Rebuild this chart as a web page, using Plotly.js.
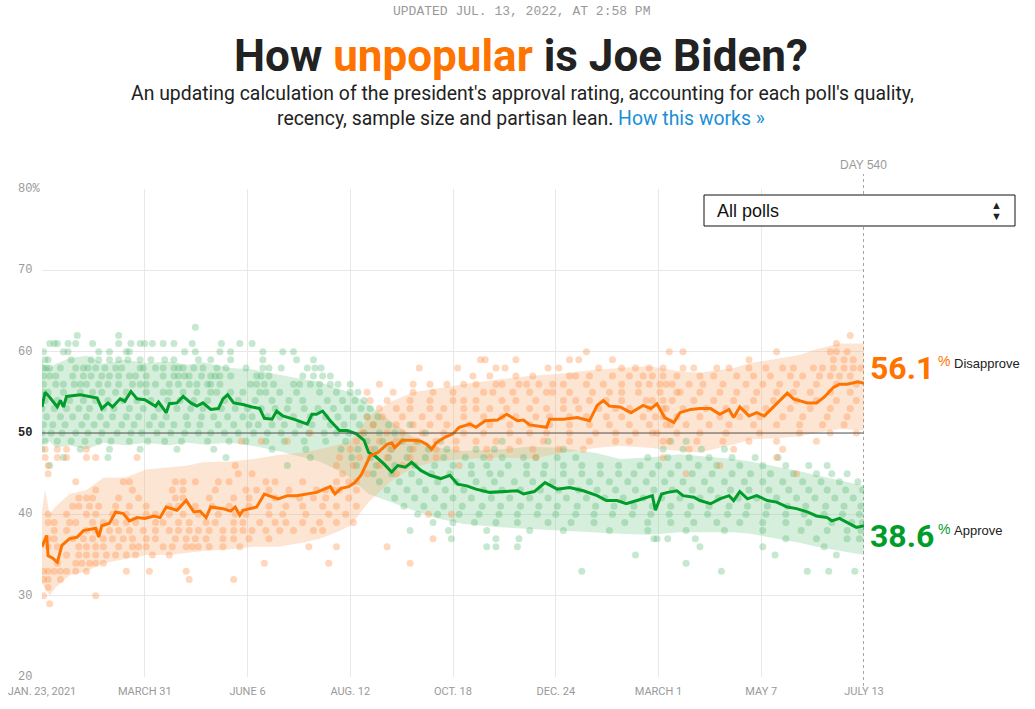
<!DOCTYPE html>
<html><head><meta charset="utf-8">
<script src="https://cdn.plot.ly/plotly-3.0.1.min.js"></script>
<style>html,body{margin:0;padding:0;background:#fff;}#chart{width:1035px;height:709px;}</style>
</head><body><div id="chart"></div>
<script>
// ---- DATA (x = days since Jan. 23, 2021) ----
const xTickDays = [0, 67, 134, 201, 268, 335, 402, 469, 536];
const xTickText = ['JAN. 23, 2021', 'MARCH 31', 'JUNE 6', 'AUG. 12', 'OCT. 18', 'DEC. 24', 'MARCH 1', 'MAY 7', 'JULY 13'];
const yTickVals = [20, 30, 40, 50, 60, 70, 80];
const yTickText = ['20', '30', '40', '50', '60', '70', '80%'];

const approveDay = [0,2,5,10,12,14,16,25,36,39,43,46,51,54,58,62,67,74,76,81,83,88,92,97,101,105,110,115,118,121,125,131,137,142,145,150,153,157,164,173,176,179,183,188,194,199,205,210,213,217,223,228,232,237,241,247,253,260,266,271,277,283,292,301,310,314,321,328,336,344,353,362,368,375,381,388,394,398,400,404,408,414,418,425,429,436,442,448,451,455,460,466,473,479,486,492,499,505,512,515,520,525,531,536];
const approvePct = [53.2,55.0,54.4,53.2,54.0,53.2,54.5,54.7,54.3,53.0,53.7,53.2,54.2,53.9,55.1,54.2,54.1,53.3,53.8,52.5,53.6,53.7,54.5,53.7,53.3,53.7,52.9,53.0,54.2,54.7,53.7,53.5,53.2,53.0,51.8,51.7,52.7,52.1,51.7,51.1,52.3,52.3,52.7,51.5,50.3,50.3,49.9,49.1,47.6,47.2,46.2,45.2,46.0,45.8,46.4,45.4,44.8,44.4,44.8,43.7,43.5,43.1,42.7,42.8,42.9,42.5,42.8,43.9,43.1,43.3,42.9,42.3,41.7,41.7,41.3,41.7,42.1,42.3,40.5,42.5,42.7,42.9,42.3,42.1,41.7,41.3,41.9,42.3,41.7,42.8,41.9,42.3,41.7,41.5,40.9,40.7,40.3,39.8,39.6,39.2,39.5,39.0,38.4,38.6];

const disapproveDay = [0,3,4,7,10,13,18,23,27,35,37,39,44,48,53,57,62,67,73,77,81,88,94,99,103,107,110,118,123,126,129,131,140,145,154,160,166,173,179,188,191,195,200,204,208,211,214,219,225,228,230,235,242,247,251,254,257,263,268,272,279,283,289,297,303,310,314,318,323,329,331,340,349,357,362,366,370,377,384,392,397,401,406,412,416,423,429,436,442,448,451,455,461,466,471,479,486,490,499,505,510,516,520,525,529,532,536];
const disapprovePct = [36.0,37.4,34.9,34.6,34.1,36.2,37.0,37.2,38.0,38.3,37.2,38.6,38.9,40.3,40.1,39.2,39.6,39.5,39.8,39.6,40.9,40.5,41.7,40.3,40.4,39.6,40.9,40.7,40.4,40.9,39.9,40.5,40.9,42.5,41.9,42.3,42.3,42.5,42.7,43.4,42.5,43.2,43.4,43.9,44.8,46.0,47.2,47.6,48.6,48.8,48.2,49.1,49.1,49.0,48.6,48.0,48.8,49.5,49.9,50.7,51.1,50.7,51.5,51.6,52.3,51.5,51.6,51.0,50.9,50.7,51.7,51.7,51.9,51.5,53.4,54.0,53.3,53.2,52.5,53.4,53.0,53.6,51.9,51.3,52.5,52.9,53.0,53.0,52.3,52.9,51.9,53.2,52.1,52.5,52.1,53.6,54.9,54.2,53.7,53.7,54.4,55.6,56.0,56.0,56.2,56.3,56.1];

const bandDay = [0,2,5,9,18,29,40,54,68,83,95,105,123,138,154,170,181,192,201,213,227,242,258,275,299,318,338,362,377,396,416,429,451,462,481,494,505,520,536];
const approveHigh = [59.0,58.2,58.0,58.5,59.2,59.5,58.5,59.0,58.6,58.8,58.4,58.7,58.0,57.8,57.2,56.6,56.3,55.5,55.0,53.5,51.5,49.5,48.2,47.8,48.0,48.3,48.2,47.5,46.8,47.0,47.4,47.2,46.8,46.5,45.8,45.3,44.8,44.2,43.5];
const approveLow = [48.5,48.8,49.0,48.2,48.5,48.0,48.8,48.5,48.8,48.5,48.8,48.6,48.8,48.4,47.8,47.0,46.5,45.5,44.5,42.5,41.5,40.5,39.5,38.8,38.4,38.2,38.0,37.8,37.6,37.5,37.8,37.8,37.8,37.6,37.0,36.5,36.0,35.5,35.0];
const disapproveHigh = [40.5,43.0,40.0,41.0,42.5,43.0,44.5,44.5,45.5,45.8,46.0,46.4,46.5,46.8,47.3,47.6,48.0,48.5,49.0,52.0,53.8,55.0,55.5,56.0,56.6,57.0,57.3,57.8,58.0,58.2,57.6,57.4,58.0,58.6,59.2,59.6,60.3,61.0,61.0];
const disapproveLow = [31.5,31.0,30.0,31.0,32.5,33.0,34.0,34.5,35.0,35.0,35.3,35.5,35.7,36.0,36.0,36.5,37.0,37.8,38.6,41.5,44.0,45.8,46.5,46.8,47.0,46.8,47.5,48.2,48.4,48.2,47.8,47.6,48.6,49.2,49.4,49.6,50.0,50.5,50.3];

// individual polls, grouped by rounded result
const approveRowPct = [63,62,61,60,59,58,57,56,55,54,53,52,51,50,49,48,47,46,45,44,43,42,41,40,39,38,37,36,35,34,33];
const approveRowDays = [
 [100],
 [23,50],
 [5,8,10,17,22,33,50,58,64,67,72,79,86,98,117,129,137],
 [1,14,17,37,44,55,57,93,100,116,123,144,157,164],
 [2,4,19,32,37,44,50,56,64,71,80,86,102,110,123,144,166,177],
 [1,3,5,12,22,27,30,35,41,48,52,64,66,74,79,86,89,92,99,105,114,120,133,144,148,156,173,178,182],
 [1,5,9,20,27,32,39,44,50,57,61,68,79,86,89,93,96,104,110,113,116,123,140,143,148,170,177,183,188],
 [1,9,14,21,25,29,37,43,50,59,64,68,74,83,89,96,101,108,110,116,136,140,145,151,164,168,175,181,188,193,201],
 [1,4,14,25,33,39,48,55,68,79,83,92,101,110,114,123,131,142,146,155,166,181,192,201,206],
 [2,10,18,27,35,43,53,62,71,82,90,99,108,119,128,139,150,161,170,186,196,204,210],
 [0,8,16,24,31,40,47,57,66,76,88,97,105,117,126,134,143,152,160,171,180,190,199,208,214],
 [3,12,20,29,38,46,55,63,73,81,94,104,112,121,131,137,147,155,164,175,185,193,203,212,219],
 [1,7,15,26,34,42,52,60,70,78,86,95,103,115,125,135,141,150,158,168,176,188,197,207,216,226,240],
 [0,6,13,22,30,39,49,58,65,75,84,93,102,110,119,128,138,147,156,165,174,184,192,200,210,220,230,250],
 [2,10,19,28,37,45,57,69,80,91,108,122,133,146,158,171,185,198,212,222,235,245,260,300,330,410,420],
 [0,25,44,64,88,112,150,172,195,206,217,228,240,252,264,283,295,340,405,418,430,445],
 [14,43,120,175,202,214,226,238,250,262,276,288,300,314,322,336,348,395,408,422,435,450,465,480],
 [5,160,205,218,230,243,256,268,280,290,304,316,328,340,352,364,376,390,402,415,428,440,455,470,485,500,512],
 [216,228,241,254,266,280,292,299,316,327,340,352,364,376,386,398,410,424,437,450,462,475,490,505,515,525],
 [220,233,246,258,270,283,295,308,320,333,345,357,370,382,394,406,418,432,445,458,470,483,496,508,520,532],
 [225,238,250,263,275,288,300,312,325,337,350,362,374,387,399,411,424,436,449,461,474,487,500,512,524,535],
 [230,243,256,268,280,293,305,318,330,342,355,367,379,392,404,416,429,441,454,466,479,492,504,517,529],
 [236,249,262,274,287,299,312,324,336,349,361,373,386,398,410,423,435,448,460,473,486,498,511,523,534],
 [245,258,272,285,298,310,323,335,348,360,372,385,397,409,421,434,447,459,472,485,497,510,522,533],
 [255,268,282,296,310,330,345,360,380,395,410,425,440,455,470,485,500,515,528,535],
 [240,265,290,318,340,370,395,420,445,470,495,512,525,534],
 [267,296,311,399,401,408,426,485,505,525,533],
 [290,296,310,429,470,510],
 [387,478,518],
 [420],
 [352,443,499,513,530]
];

const disapproveRowPct = [62,61,60,59,58,57,56,55,54,53,52,51,50,49,48,47,46,45,44,43,42,41,40,39,38,37,36,35,34,33,32,31,30,29];
const disapproveRowDays = [
 [527],
 [518],
 [355,409,418,479,514,518,525],
 [286,289,309,344,350,372,461,516,523,529],
 [246,271,296,302,330,337,363,378,387,396,405,418,425,440,448,461,472,483,490,503,509,516,523,529,534],
 [281,292,309,320,344,348,357,372,383,392,398,405,414,429,438,453,464,475,488,496,507,514,520,527],
 [220,242,253,264,275,283,296,300,311,316,324,333,340,355,366,378,389,396,403,407,411,422,431,444,459,470,481,492,505,518,531],
 [212,229,242,255,268,288,294,307,318,329,333,344,359,370,378,389,403,414,416,429,442,453,466,479,490,501,514,527],
 [214,225,240,253,268,275,283,300,309,322,340,348,357,368,378,394,398,405,411,425,438,451,464,477,492,505,518,531],
 [220,231,240,253,262,275,283,292,303,318,329,340,350,363,374,383,396,405,407,418,433,446,459,472,488,501,514,527],
 [212,222,235,248,259,275,288,300,309,322,331,344,355,368,378,392,400,405,414,429,442,455,468,483,496,512,525],
 [216,231,242,253,264,279,292,305,318,331,344,357,370,383,396,407,410,420,435,448,464,479,494,509,523],
 [175,209,225,235,248,262,275,288,305,318,329,344,361,374,387,398,401,414,429,446,468,494,514,531],
 [130,143,160,205,220,231,244,257,270,283,296,311,327,344,357,374,383,405,409,427,444,461,479,505],
 [2,10,16,29,201,214,227,242,257,270,290,305,320,337,353,422,451,483],
 [2,10,16,29,35,62,194,207,225,240,257,292,322,405,479],
 [4,126,192,203,220,235,272,442],
 [4,128,137,196,212,231,420,492],
 [22,53,57,87,92,100,115,122,146,152,170,192,200,205],
 [35,59,85,92,113,133,140,148,161,179,185,190,194,205],
 [24,29,33,50,63,87,92,109,125,135,152,168,177,185,200],
 [20,24,31,37,48,57,68,83,89,100,111,122,135,148,159,170,183,192,205],
 [4,16,29,35,46,55,68,74,83,92,102,115,126,133,148,157,172,187,198,252,267],
 [4,8,18,22,33,40,48,55,61,74,79,89,96,107,113,125,131,142,152,159,170,181,192,203],
 [8,16,29,35,44,50,57,66,74,83,89,96,102,109,118,125,131,137,146,155,164,177,183],
 [4,8,20,27,33,40,46,53,59,68,74,87,94,100,107,118,125,135,148,255],
 [4,10,24,29,35,40,50,59,63,68,79,85,94,98,102,109,118,129,174,192,225],
 [16,24,29,35,42,48,55,61,72,83],
 [10,22,26,31,35,40,145,187,240],
 [1,4,8,12,16,22,29,55,70,94],
 [1,4,12,96,125],
 [4],
 [1,35],
 [5]
];

const latestDisapprove = '56.1';
const latestApprove = '38.6';

// ---- helpers ----
function expand(rowPct, rowDays) {
  const xs = [], ys = [];
  rowPct.forEach((p, i) => rowDays[i].forEach(d => { xs.push(d); ys.push(p); }));
  return {xs, ys};
}
const L = 42, R = 864, T = 189, B = 677;
const px = x => (x - L) / (R - L);
const py = y => (B - y) / (B - T);

const ORANGE = '#ff7300', GREEN = '#009d2b';
const COND = 'Roboto, "Liberation Sans", sans-serif';
const SANS = '"Liberation Sans", Arial, sans-serif';
const MONO = '"Liberation Mono", "DejaVu Sans Mono", monospace';

const aDots = expand(approveRowPct, approveRowDays);
const dDots = expand(disapproveRowPct, disapproveRowDays);

const traces = [
  {x: bandDay, y: approveLow, mode: 'lines', line: {width: 0}, hoverinfo: 'skip', showlegend: false},
  {x: bandDay, y: approveHigh, mode: 'lines', line: {width: 0}, fill: 'tonexty', fillcolor: 'rgba(120,200,140,0.30)', hoverinfo: 'skip', showlegend: false},
  {x: bandDay, y: disapproveLow, mode: 'lines', line: {width: 0}, hoverinfo: 'skip', showlegend: false},
  {x: bandDay, y: disapproveHigh, mode: 'lines', line: {width: 0}, fill: 'tonexty', fillcolor: 'rgba(250,170,110,0.30)', hoverinfo: 'skip', showlegend: false},
  {x: aDots.xs, y: aDots.ys, mode: 'markers', marker: {size: 7, color: 'rgba(70,180,100,0.30)'}, hoverinfo: 'skip', showlegend: false},
  {x: dDots.xs, y: dDots.ys, mode: 'markers', marker: {size: 7, color: 'rgba(255,150,80,0.38)'}, hoverinfo: 'skip', showlegend: false},
  {x: approveDay, y: approvePct, mode: 'lines', line: {color: GREEN, width: 3}, showlegend: false},
  {x: disapproveDay, y: disapprovePct, mode: 'lines', line: {color: ORANGE, width: 3}, showlegend: false}
];

const annotations = [];
yTickVals.forEach((v, i) => annotations.push({
  xref: 'paper', yref: 'y', x: px(16), y: v, xanchor: 'left', yanchor: 'middle', showarrow: false,
  text: yTickText[i], font: {family: MONO, size: 12, color: v === 50 ? '#222' : '#999', weight: v === 50 ? 700 : 400}
}));
function label(x, y, text, font, xanchor) {
  annotations.push({xref: 'paper', yref: 'paper', x: px(x), y: py(y), xanchor: xanchor || 'center', yanchor: 'middle',
    showarrow: false, text: text, font: font});
}
label(521, 11, 'UPDATED JUL. 13, 2022, AT 2:58 PM', {family: MONO, size: 13, color: '#999'});
label(521, 56, 'How <span style="color:' + ORANGE + '">unpopular</span> is Joe Biden?', {family: COND, size: 44, color: '#222', weight: 700});
label(522, 93, "An updating calculation of the president's approval rating, accounting for each poll's quality,", {family: COND, size: 19.4, color: '#222'});
label(521, 118, 'recency, sample size and partisan lean. <span style="color:#1a8fd6">How this works »</span>', {family: COND, size: 19.4, color: '#222'});
label(863, 165, 'DAY 540', {family: SANS, size: 12, color: '#999'});
label(715, 211, 'All polls', {family: SANS, size: 18, color: '#111'}, 'left');
label(996, 205, '▲', {family: SANS, size: 11, color: '#222'});
label(996, 216, '▼', {family: SANS, size: 11, color: '#222'});
label(868, 368, latestDisapprove, {family: COND, size: 32, color: ORANGE, weight: 700}, 'left');
label(936, 361, '%', {family: SANS, size: 14, color: ORANGE}, 'left');
label(952, 363, 'Disapprove', {family: SANS, size: 13, color: '#222'}, 'left');
label(868, 536, latestApprove, {family: COND, size: 32, color: GREEN, weight: 700}, 'left');
label(936, 529, '%', {family: SANS, size: 14, color: GREEN}, 'left');
label(952, 530, 'Approve', {family: SANS, size: 13, color: '#222'}, 'left');

const shapes = [
  {type: 'line', xref: 'x', yref: 'y', x0: 0, x1: 536, y0: 50, y1: 50, line: {color: '#555', width: 1}, layer: 'above'},
  {type: 'line', xref: 'x', yref: 'paper', x0: 536, x1: 536, y0: py(686), y1: py(174), line: {color: '#888', width: 1.5, dash: 'dot'}, layer: 'above'},
  {type: 'rect', xref: 'paper', yref: 'paper', x0: px(704), x1: px(1015), y0: py(226), y1: py(195), line: {color: '#111', width: 1}, fillcolor: '#fff', layer: 'above'}
];

const layout = {
  width: 1035, height: 709,
  margin: {l: L, r: 1035 - R, t: T, b: 709 - B, pad: 0},
  paper_bgcolor: '#fff', plot_bgcolor: '#fff',
  showlegend: false,
  xaxis: {range: [0, 536], tickvals: xTickDays, ticktext: xTickText, showgrid: true, gridcolor: '#e8e8e8', zeroline: false,
    showline: false, ticks: '', ticklabelstandoff: 6, tickfont: {family: COND, size: 11, color: '#999'}, fixedrange: true},
  yaxis: {range: [20, 80], tickvals: yTickVals, showticklabels: false, showgrid: true, gridcolor: '#e8e8e8', zeroline: false,
    showline: false, ticks: '', fixedrange: true},
  annotations: annotations,
  shapes: shapes,
  hovermode: false
};
Plotly.newPlot('chart', traces, layout, {displayModeBar: false, staticPlot: true});
</script></body></html>
